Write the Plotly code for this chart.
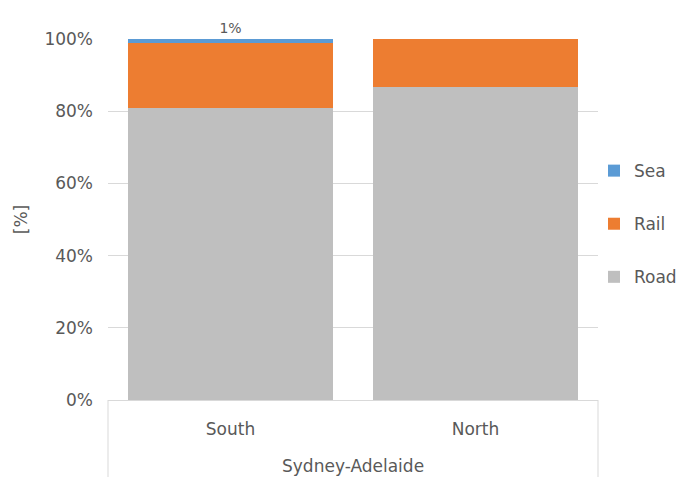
import plotly.graph_objects as go

# Modal split of freight on the Sydney-Adelaide corridor, by direction
directions = ["South", "North"]
corridor = "Sydney-Adelaide"
road = [81.0, 86.7]
rail = [18.0, 13.3]
sea = [1.0, 0.0]
sea_labels = ["1%", ""]
y_ticks = [0, 20, 40, 60, 80, 100]
y_tick_text = ["0%", "20%", "40%", "60%", "80%", "100%"]

FONT = "DejaVu Sans"
TEXT_GREY = "#595959"
LINE_GREY = "#d9d9d9"

fig = go.Figure()
fig.add_trace(go.Bar(name="Road", x=directions, y=road, marker_color="#bfbfbf",
                     legendgroup="road", legendrank=3, marker_line_width=0))
fig.add_trace(go.Bar(name="Rail", x=directions, y=rail, marker_color="#ed7d31",
                     legendgroup="rail", legendrank=2, marker_line_width=0))
fig.add_trace(go.Bar(name="Sea", x=directions, y=sea, marker_color="#5b9bd5",
                     legendgroup="sea", legendrank=1, marker_line_width=0,
                     text=sea_labels, textposition="outside", cliponaxis=False,
                     textfont=dict(family=FONT, size=14, color=TEXT_GREY)))

W, H = 684, 477
ml, mr, mt, mb = 108, 86, 39, 77
plot_w = W - ml - mr
plot_h = H - mt - mb
below = -mb / plot_h

fig.update_layout(
    width=W, height=H,
    margin=dict(l=ml, r=mr, t=mt, b=mb, pad=0, autoexpand=False),
    barmode="stack", bargap=0.167,
    plot_bgcolor="white", paper_bgcolor="white",
    font=dict(family=FONT, size=17, color=TEXT_GREY),
    showlegend=True,
    legend=dict(traceorder="grouped", tracegroupgap=28,
                x=(594 - ml) / plot_w, xanchor="left", y=0.684, yanchor="top",
                font=dict(family=FONT, size=17, color=TEXT_GREY),
                itemwidth=30, bgcolor="rgba(0,0,0,0)"),
    xaxis=dict(range=[-0.5, 1.5], showgrid=False, showline=True,
               linecolor=LINE_GREY, linewidth=1, ticks="",
               ticklabelstandoff=14, tickfont=dict(size=17)),
    yaxis=dict(range=[0, 100], tickvals=y_ticks, ticktext=y_tick_text,
               showgrid=True, gridcolor=LINE_GREY, gridwidth=1,
               zeroline=False, showline=False, ticks="",
               ticklabelstandoff=14,
               title=dict(text="[%]", standoff=12, font=dict(size=17))),
)

# Category-axis frame and group label underneath
for xp in (0, 1):
    fig.add_shape(type="line", xref="paper", yref="paper", x0=xp, x1=xp,
                  y0=0, y1=below, line=dict(color=LINE_GREY, width=1))
fig.add_annotation(text=corridor, xref="paper", yref="paper", x=0.5,
                   y=(400 - 466) / plot_h, yanchor="middle", showarrow=False,
                   font=dict(family=FONT, size=17, color=TEXT_GREY))

fig.write_html("out.html")
